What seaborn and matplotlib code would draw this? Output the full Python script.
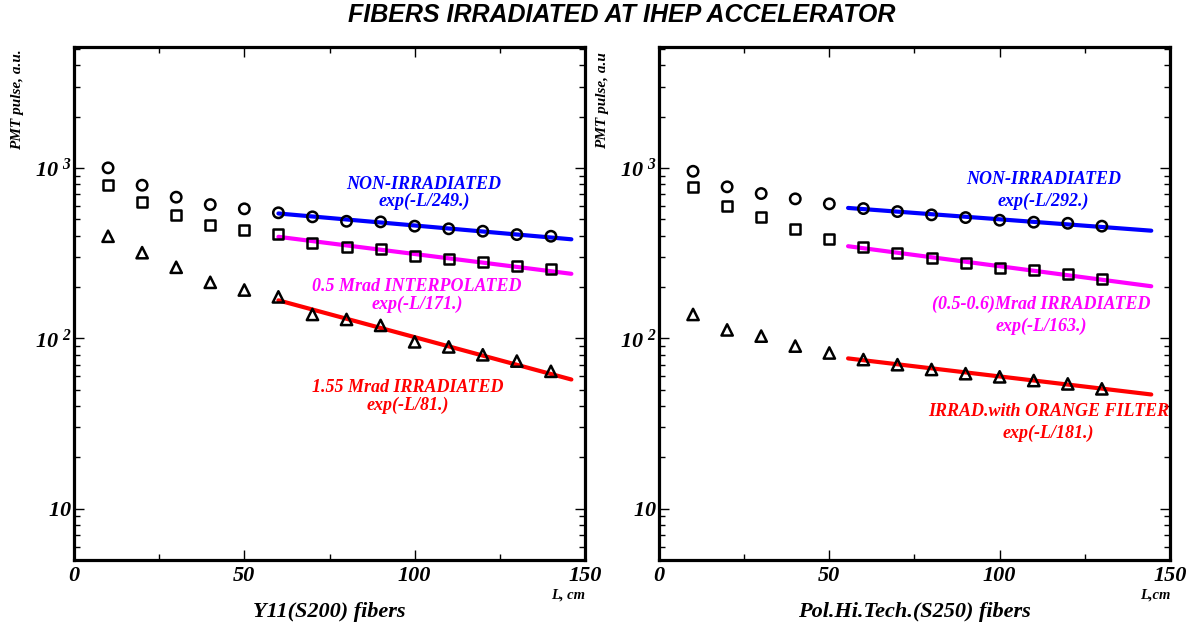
import matplotlib
matplotlib.use("Agg")
import matplotlib.pyplot as plt
import seaborn as sns
import pandas as pd
from matplotlib.ticker import FixedLocator, FixedFormatter, LogLocator, NullFormatter

# ---------------- data ----------------
L_left = [10, 20, 30, 40, 50, 60, 70, 80, 90, 100, 110, 120, 130, 140]
left_circle = [1000, 791, 673, 609, 575, 545, 516, 486, 482, 455, 439, 425, 406, 397]
left_square = [798, 632, 530, 465, 434, 410, 363, 344, 332, 306, 293, 281, 267, 254]
left_triangle = [397, 318, 261, 213, 192, 175, 138, 129, 119, 95.3, 89, 80, 73.5, 64]

L_right = [10, 20, 30, 40, 50, 60, 70, 80, 90, 100, 110, 120, 130]
right_circle = [955, 774, 707, 658, 615, 577, 554, 530, 511, 493, 480, 473, 455]
right_square = [774, 596, 516, 439, 384, 345, 318, 294, 275, 258, 250, 239, 224]
right_triangle = [138, 112, 103, 90, 82, 75, 70, 65.6, 62, 59.4, 56.5, 54, 50.5]

# exponential fits: end points of each fitted line (straight on a log axis)
left_fit_L = [60, 146]
left_fit_blue = [540, 381]
left_fit_magenta = [394, 239]
left_fit_red = [167, 57.3]
right_fit_L = [55.5, 144.5]
right_fit_blue = [582, 428]
right_fit_magenta = [347, 202]
right_fit_red = [76.2, 46.8]

left_notes = ["NON-IRRADIATED", "exp(-L/249.)", "0.5 Mrad INTERPOLATED", "exp(-L/171.)",
              "1.55 Mrad IRRADIATED", "exp(-L/81.)"]
left_note_x = [102.7, 102.7, 100.7, 100.7, 98.1, 98.1]
left_note_y = [800, 632, 200, 158, 51.5, 40.2]
right_notes = ["NON-IRRADIATED", "exp(-L/292.)", "(0.5-0.6)Mrad IRRADIATED", "exp(-L/163.)",
               "IRRAD.with ORANGE FILTER", "exp(-L/181.)"]
right_note_x = [112.8, 112.8, 112.1, 112.1, 114.3, 114.3]
right_note_y = [855, 632, 159, 118, 37.1, 27.5]
note_colors = ["#0000ff", "#0000ff", "#ff00ff", "#ff00ff", "#ff0000", "#ff0000"]

y_ticks = [10, 100, 1000]
y_tick_labels = [r"$10\;\;\,$", r"$10\;^{2}$", r"$10\;^{3}$"]
x_ticks = [0, 50, 100, 150]
x_tick_labels = ["0", "50", "100", "150"]

title = "FIBERS IRRADIATED AT IHEP ACCELERATOR"
left_xlabel = "Y11(S200) fibers"
right_xlabel = "Pol.Hi.Tech.(S250) fibers"
left_ylabel = "PMT pulse, a.u."
right_ylabel = "PMT pulse, a.u"
left_unit = "L, cm"
right_unit = "L,cm"

# ---------------- style ----------------
sns.set_theme(style="ticks")
plt.rcParams["font.family"] = ["Liberation Serif", "DejaVu Serif"]
plt.rcParams["font.weight"] = "bold"
plt.rcParams["font.style"] = "italic"
for k in ("text.color", "axes.labelcolor", "xtick.color", "ytick.color", "axes.edgecolor"):
    plt.rcParams[k] = "black"
plt.rcParams["mathtext.fontset"] = "custom"
for k in ("rm", "it", "bf", "sf", "tt", "cal"):
    plt.rcParams["mathtext." + k] = "Liberation Serif:bold:italic"

W, H = 1191, 628
fig = plt.figure(figsize=(W / 100, H / 100), dpi=100)
ax_l = fig.add_axes([74 / W, 1 - 560 / H, 511 / W, 512.7 / H])
ax_r = fig.add_axes([659 / W, 1 - 560 / H, 511 / W, 512.7 / H])


def panel(ax, L, circ, sq, tri, fitL, fb, fm, fr, notes, nx, ny, xlabel, ylabel, unit):
    ax.set_yscale("log")
    for vals, mk, s in ((circ, "o", 56), (sq, "s", 52), (tri, "^", 66)):
        sns.scatterplot(x=L, y=vals, marker=mk, s=s, facecolors="none",
                        edgecolor="black", linewidth=1.8, ax=ax, legend=False, zorder=3)
    for vals, c in ((fb, "#0000ff"), (fm, "#ff00ff"), (fr, "#ff0000")):
        sns.lineplot(x=fitL, y=vals, color=c, linewidth=3.0, ax=ax, legend=False, zorder=2)
    for t, x, y, c in zip(notes, nx, ny, note_colors):
        ax.text(x, y, t, color=c, ha="center", va="center", fontsize=13,
                fontweight="bold", fontstyle="italic")
    ax.set_xlim(0, 150)
    ax.set_ylim(5, 5100)
    ax.xaxis.set_major_locator(FixedLocator(x_ticks))
    ax.xaxis.set_major_formatter(FixedFormatter(x_tick_labels))
    ax.xaxis.set_minor_locator(FixedLocator([25, 75, 125]))
    ax.yaxis.set_major_locator(FixedLocator(y_ticks))
    ax.yaxis.set_major_formatter(FixedFormatter(y_tick_labels))
    ax.yaxis.set_minor_locator(LogLocator(base=10, subs=range(2, 10), numticks=20))
    ax.yaxis.set_minor_formatter(NullFormatter())
    ax.tick_params(which="both", direction="in", top=True, right=True, width=1.0,
                   color="black", labelcolor="black")
    ax.tick_params(which="major", length=7.5)
    ax.tick_params(which="minor", length=4)
    ax.tick_params(axis="x", which="major", pad=4.5, labelsize=16)
    ax.tick_params(axis="y", which="major", pad=1.5, labelsize=16)
    for sp in ax.spines.values():
        sp.set_linewidth(2.3)
        sp.set_color("black")
    ax.set_xlabel(xlabel, fontsize=16, fontweight="bold", fontstyle="italic", va="center",
                  color="black")
    ax.xaxis.set_label_coords(0.5, -0.101)
    ax.set_ylabel(ylabel, fontsize=11, fontweight="bold", fontstyle="italic", va="center",
                  ha="center", color="black")
    ax.yaxis.set_label_coords(-0.11, 0.897)
    ax.text(1.0, -0.068, unit, transform=ax.transAxes, ha="right", va="center",
            fontsize=10.5, fontweight="bold", fontstyle="italic", color="black")
    ax.grid(False)


panel(ax_l, L_left, left_circle, left_square, left_triangle, left_fit_L,
      left_fit_blue, left_fit_magenta, left_fit_red, left_notes, left_note_x, left_note_y,
      left_xlabel, left_ylabel, left_unit)
panel(ax_r, L_right, right_circle, right_square, right_triangle, right_fit_L,
      right_fit_blue, right_fit_magenta, right_fit_red, right_notes, right_note_x, right_note_y,
      right_xlabel, right_ylabel, right_unit)

fig.text(622 / W, 1 - 14.5 / H, title, ha="center", va="center", fontsize=18, color="black",
         family=["Liberation Sans", "DejaVu Sans"], fontweight="bold", fontstyle="italic")

fig.savefig("out.png", dpi=100)
